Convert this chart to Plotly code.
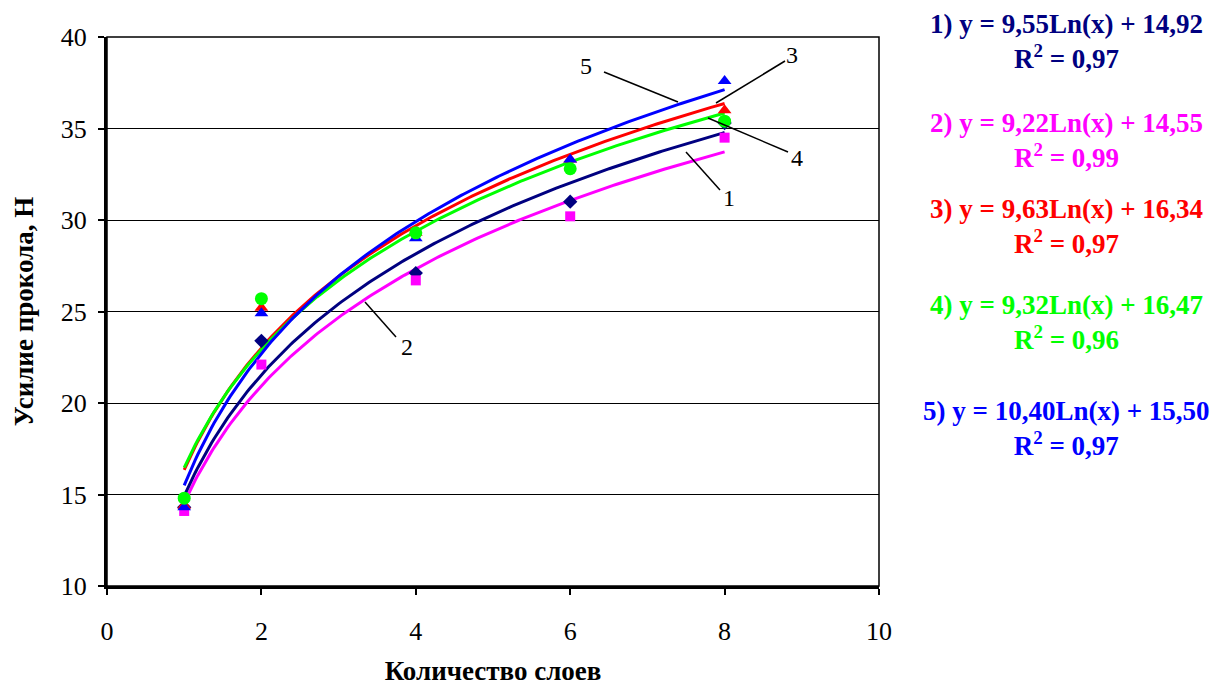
import numpy as np
import plotly.graph_objects as go

# ---- data ----
layers = [1, 2, 4, 6, 8]
s1 = [14.3, 23.4, 27.1, 31.0, 35.3]   # navy diamonds
s2 = [14.1, 22.1, 26.7, 30.2, 34.5]   # magenta squares
s3 = [14.4, 25.2, 29.3, 33.3, 36.0]   # red triangles
s4 = [14.8, 25.7, 29.3, 32.8, 35.4]   # green circles
s5 = [14.3, 24.9, 29.0, 33.3, 37.6]   # blue triangles

# trendline coefficients y = a*ln(x) + b (as printed on the chart)
coef_a = [9.55, 9.22, 9.63, 9.32, 10.40]
coef_b = [14.92, 14.55, 16.34, 16.47, 15.50]
r2 = ["0,97", "0,99", "0,97", "0,96", "0,97"]
eq_labels = ["1) y = 9,55Ln(x) + 14,92", "2) y = 9,22Ln(x) + 14,55",
             "3) y = 9,63Ln(x) + 16,34", "4) y = 9,32Ln(x) + 16,47",
             "5) y = 10,40Ln(x) + 15,50"]

x_ticks = [0, 2, 4, 6, 8, 10]
y_ticks = [10, 15, 20, 25, 30, 35, 40]

colors = ["#000080", "#FF00FF", "#FF0000", "#00FF00", "#0000FF"]
symbols = ["diamond", "square", "triangle-up", "circle", "triangle-up"]
msizes = [11, 10, 12, 13, 12]
series = [s1, s2, s3, s4, s5]

FONT = "Liberation Serif, Times New Roman, serif"

fig = go.Figure()

xs = np.linspace(1, 8, 200)
for i in [1, 0, 2, 3, 4]:
    fig.add_trace(go.Scatter(x=xs, y=coef_a[i] * np.log(xs) + coef_b[i], mode="lines",
                             line=dict(color=colors[i], width=3), hoverinfo="skip",
                             showlegend=False))
for i in [0, 1, 2, 4, 3]:
    fig.add_trace(go.Scatter(x=layers, y=series[i], mode="markers",
                             marker=dict(color=colors[i], symbol=symbols[i], size=msizes[i],
                                         line=dict(width=0)),
                             showlegend=False))

# plot area pixel geometry (for callouts)
L, R, T, B = 107, 879, 37, 586
def px2d(px, py):
    return (px - L) / (R - L) * 10, 10 + (B - py) / (B - T) * 30

callouts = [
    ("1", (729, 198), (720, 190), (686, 152)),
    ("2", (407, 347), (396, 337), (365, 302)),
    ("3", (792, 55), (785, 61), (716, 103)),
    ("4", (797, 158), (788, 152), (708, 118)),
    ("5", (586, 66), (604, 72), (678, 102)),
]
shapes = []
annotations = []
for txt, tp, p0, p1 in callouts:
    x0, y0 = px2d(*p0)
    x1, y1 = px2d(*p1)
    shapes.append(dict(type="line", xref="x", yref="y", x0=x0, y0=y0, x1=x1, y1=y1,
                       line=dict(color="black", width=1.5)))
    tx, ty = px2d(*tp)
    annotations.append(dict(x=tx, y=ty, xref="x", yref="y", text=txt, showarrow=False,
                            font=dict(family=FONT, size=24, color="black")))

# plot border (thin top/right)
shapes.append(dict(type="rect", xref="paper", yref="paper", x0=0, y0=0, x1=1, y1=1,
                   line=dict(color="black", width=1.5), layer="above"))

# equations on right
eq_y = [41, 141, 226, 322, 428]
for i in range(5):
    annotations.append(dict(
        xref="paper", yref="paper",
        x=(1066 - L) / (R - L), y=(B - eq_y[i]) / (B - T),
        text=f"<b>{eq_labels[i]}<br>R<sup>2</sup> = {r2[i]}</b>",
        showarrow=False, xanchor="center", yanchor="middle", align="center",
        font=dict(family=FONT, size=27, color=colors[i])))

fig.update_layout(
    width=1224, height=686,
    margin=dict(l=L, r=1224 - R, t=T, b=686 - B, autoexpand=False),
    paper_bgcolor="white", plot_bgcolor="white",
    font=dict(family=FONT, size=26, color="black"),
    shapes=shapes, annotations=annotations,
    xaxis=dict(range=[0, 10], tickvals=x_ticks, ticktext=[str(v) for v in x_ticks],
               automargin=False,
               showgrid=False, zeroline=False, showline=True, linecolor="black",
               linewidth=3, ticks="outside", ticklen=6, tickwidth=2, tickcolor="black",
               tickfont=dict(family=FONT, size=26), ticklabelstandoff=14,
               title=dict(text="<b>Количество слоев</b>", font=dict(family=FONT, size=27),
                          standoff=16)),
    yaxis=dict(range=[10, 40], tickvals=y_ticks, ticktext=[str(v) for v in y_ticks],
               automargin=False,
               showgrid=True, gridcolor="black", gridwidth=1, zeroline=False,
               showline=True, linecolor="black", linewidth=3, ticks="outside",
               ticklen=6, tickwidth=2, tickcolor="black",
               tickfont=dict(family=FONT, size=26), ticklabelstandoff=6,
               title=dict(text="<b>Усилие прокола, Н</b>", font=dict(family=FONT, size=27),
                          standoff=20)),
)

fig.write_html("out.html")
